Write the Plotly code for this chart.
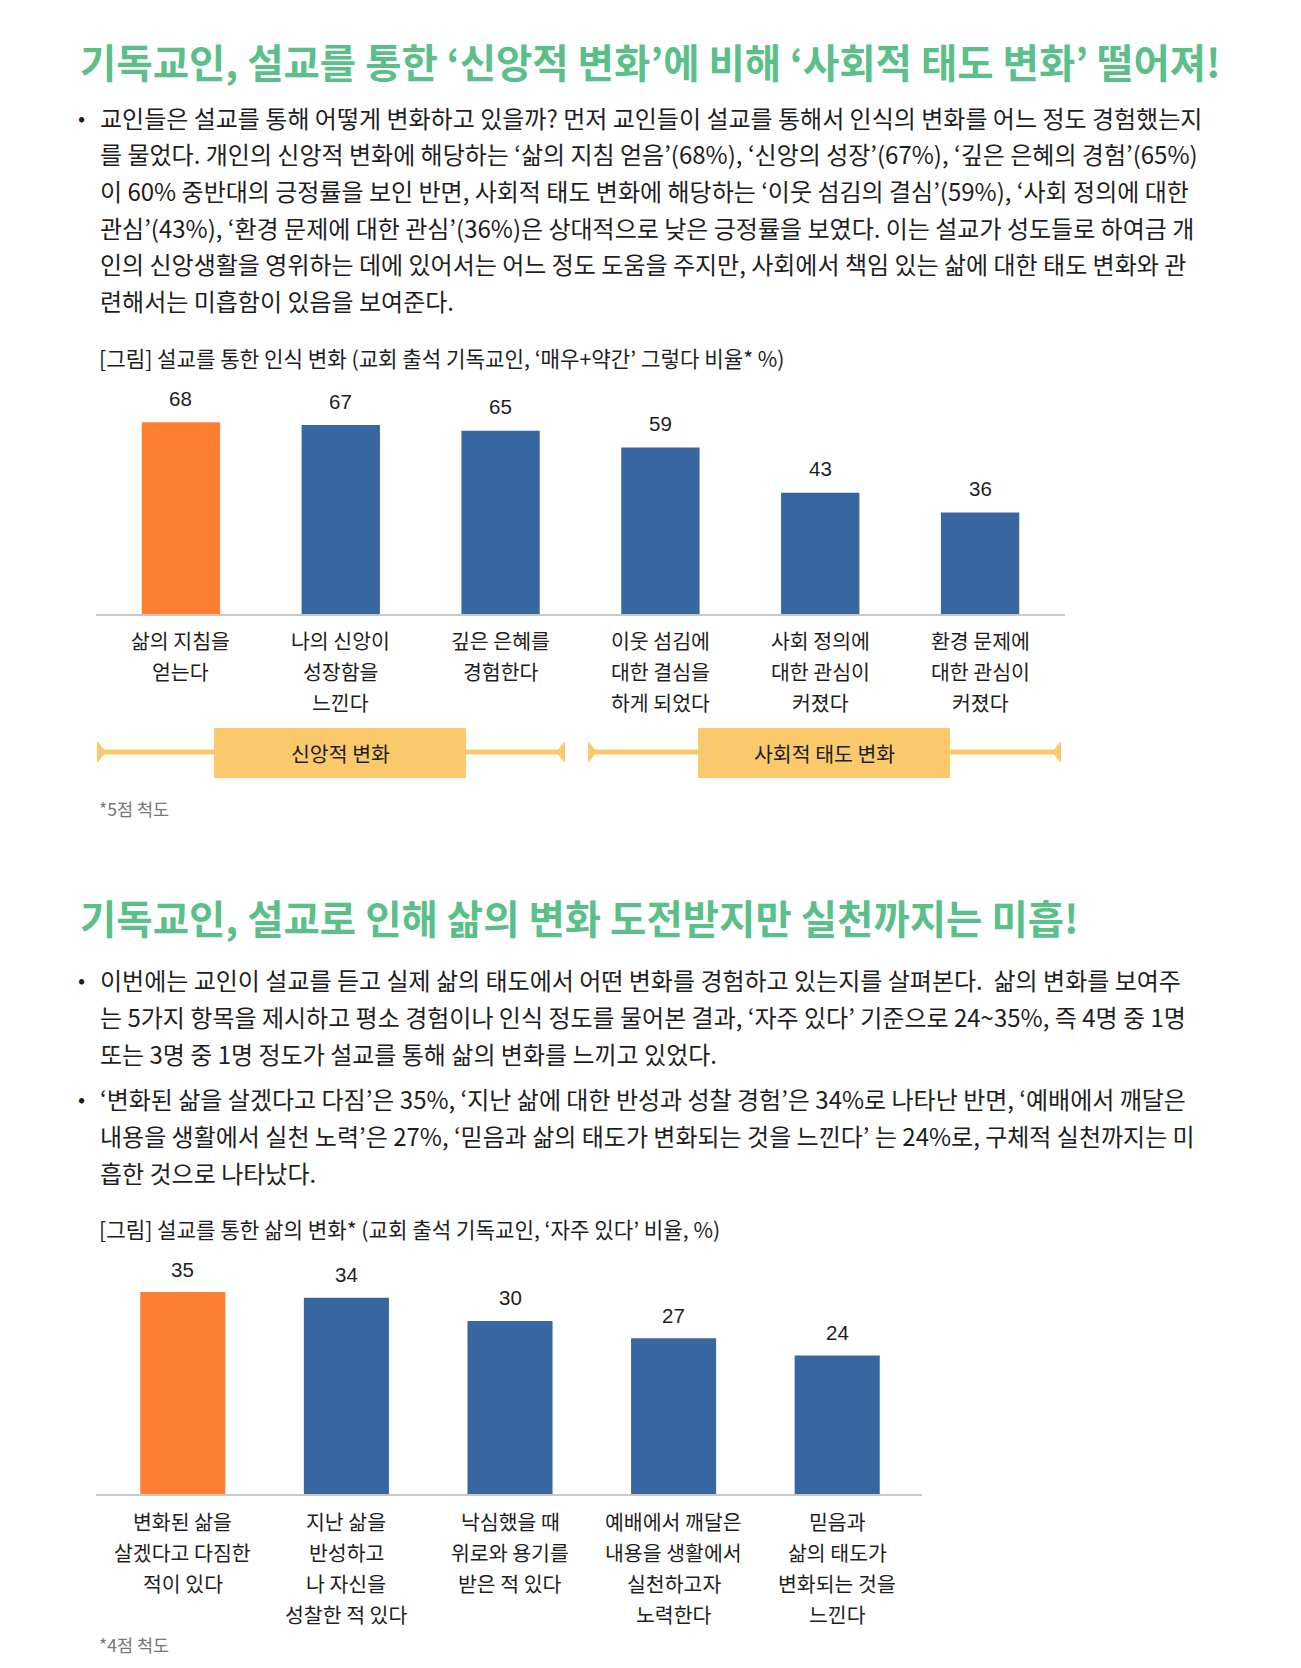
import plotly.graph_objects as go

W, H = 1301, 1668

# ---------------- data ----------------
title1 = "기독교인, 설교를 통한 ‘신앙적 변화’에 비해 ‘사회적 태도 변화’ 떨어져!"
para1 = [
    "교인들은 설교를 통해 어떻게 변화하고 있을까? 먼저 교인들이 설교를 통해서 인식의 변화를 어느 정도 경험했는지",
    "를 물었다. 개인의 신앙적 변화에 해당하는 ‘삶의 지침 얻음’(68%), ‘신앙의 성장’(67%), ‘깊은 은혜의 경험’(65%)",
    "이 60% 중반대의 긍정률을 보인 반면, 사회적 태도 변화에 해당하는 ‘이웃 섬김의 결심’(59%), ‘사회 정의에 대한",
    "관심’(43%), ‘환경 문제에 대한 관심’(36%)은 상대적으로 낮은 긍정률을 보였다. 이는 설교가 성도들로 하여금 개",
    "인의 신앙생활을 영위하는 데에 있어서는 어느 정도 도움을 주지만, 사회에서 책임 있는 삶에 대한 태도 변화와 관",
    "련해서는 미흡함이 있음을 보여준다.",
]
caption1 = "[그림] 설교를 통한 인식 변화 (교회 출석 기독교인, ‘매우+약간’ 그렇다 비율* %)"
cats1 = [
    ["삶의 지침을", "얻는다"],
    ["나의 신앙이", "성장함을", "느낀다"],
    ["깊은 은혜를", "경험한다"],
    ["이웃 섬김에", "대한 결심을", "하게 되었다"],
    ["사회 정의에", "대한 관심이", "커졌다"],
    ["환경 문제에", "대한 관심이", "커졌다"],
]
vals1 = [68, 67, 65, 59, 43, 36]
groups1 = ["신앙적 변화", "사회적 태도 변화"]
note1 = "*5점 척도"

title2 = "기독교인, 설교로 인해 삶의 변화 도전받지만 실천까지는 미흡!"
para2a = [
    "이번에는 교인이 설교를 듣고 실제 삶의 태도에서 어떤 변화를 경험하고 있는지를 살펴본다.  삶의 변화를 보여주",
    "는 5가지 항목을 제시하고 평소 경험이나 인식 정도를 물어본 결과, ‘자주 있다’ 기준으로 24~35%, 즉 4명 중 1명",
    "또는 3명 중 1명 정도가 설교를 통해 삶의 변화를 느끼고 있었다.",
]
para2b = [
    "‘변화된 삶을 살겠다고 다짐’은 35%, ‘지난 삶에 대한 반성과 성찰 경험’은 34%로 나타난 반면, ‘예배에서 깨달은",
    "내용을 생활에서 실천 노력’은 27%, ‘믿음과 삶의 태도가 변화되는 것을 느낀다’ 는 24%로, 구체적 실천까지는 미",
    "흡한 것으로 나타났다.",
]
caption2 = "[그림] 설교를 통한 삶의 변화* (교회 출석 기독교인, ‘자주 있다’ 비율, %)"
cats2 = [
    ["변화된 삶을", "살겠다고 다짐한", "적이 있다"],
    ["지난 삶을", "반성하고", "나 자신을", "성찰한 적 있다"],
    ["낙심했을 때", "위로와 용기를", "받은 적 있다"],
    ["예배에서 깨달은", "내용을 생활에서", "실천하고자", "노력한다"],
    ["믿음과", "삶의 태도가", "변화되는 것을", "느낀다"],
]
vals2 = [35, 34, 30, 27, 24]
note2 = "*4점 척도"

# ---------------- style ----------------
KR = "Noto Sans CJK KR"
NUM = "Liberation Sans, Arial, sans-serif"
GREEN = "#5ABF88"
ORANGE = "#FE7F32"
BLUE = "#3766A0"
GOLD = "#FAC96B"
TXT = "#1E1E1E"

def px(x):
    return x / W

def py(y):
    return 1 - y / H

keys1 = [" ".join(c) for c in cats1]
keys2 = [" ".join(c) for c in cats2]

fig = go.Figure()
fig.add_trace(go.Bar(
    x=keys1, y=vals1, xaxis="x", yaxis="y", width=0.49,
    marker=dict(color=[ORANGE] + [BLUE] * (len(vals1) - 1), line=dict(width=0)),
    hoverinfo="skip", showlegend=False,
))
fig.add_trace(go.Bar(
    x=keys2, y=vals2, xaxis="x2", yaxis="y2", width=0.52,
    marker=dict(color=[ORANGE] + [BLUE] * (len(vals2) - 1), line=dict(width=0)),
    hoverinfo="skip", showlegend=False,
))

ann = []

def text(x, y, s, size, color=TXT, family=KR, anchor="left", weight=None):
    f = dict(family=family, size=size, color=color)
    if weight:
        f["weight"] = weight
    ann.append(dict(x=px(x), y=py(y), xref="paper", yref="paper", text=s,
                    showarrow=False, xanchor=anchor, yanchor="middle", font=f))

BODY = 24
CAP = 21.2
CAT = 20.5

# section 1 text
text(78, 60, title1, 39.5, GREEN, weight=700)
text(76, 117, "•", 21)
for i, line in enumerate(para1):
    text(98, 117 + i * 36.7, line, BODY)
text(97, 357, caption1, CAP)

# values chart 1
for k, v in zip(keys1, vals1):
    ann.append(dict(x=k, y=v, xref="x", yref="y", text=str(v), showarrow=False,
                    yanchor="middle", yshift=24, font=dict(family=NUM, size=20.5, color=TXT)))
for k, lines in zip(keys1, cats1):
    for j, l in enumerate(lines):
        ann.append(dict(x=k, y=py(640 + j * 31), xref="x", yref="paper", text=l,
                        showarrow=False, yanchor="middle", font=dict(family=KR, size=CAT, color=TXT)))

# bracket groups
shapes = []
brackets = [(97, 565, 214, 466), (588, 1061, 698, 950)]
ybr = 752
for (x0, x1, b0, b1), lab in zip(brackets, groups1):
    shapes.append(dict(type="line", xref="paper", yref="paper", x0=px(x0), x1=px(x1),
                       y0=py(ybr), y1=py(ybr), line=dict(color=GOLD, width=5)))
    for xe, d in ((x0, 1), (x1, -1)):
        path = "M {} {} L {} {} L {} {} Z".format(px(xe), py(ybr - 11), px(xe), py(ybr + 11),
                                                  px(xe + d * 9), py(ybr))
        shapes.append(dict(type="path", xref="paper", yref="paper", path=path,
                           fillcolor=GOLD, line=dict(width=0)))
    shapes.append(dict(type="rect", xref="paper", yref="paper", x0=px(b0), x1=px(b1),
                       y0=py(778), y1=py(728), fillcolor=GOLD, line=dict(width=0)))
    text((b0 + b1) / 2, 753, lab, CAT, anchor="center")

# extend baseline slightly as in reference
shapes.append(dict(type="line", xref="paper", yref="paper", x0=px(96), x1=px(1065),
                   y0=py(615), y1=py(615), line=dict(color="#C8C8C8", width=2)))
shapes.append(dict(type="line", xref="paper", yref="paper", x0=px(96), x1=px(922),
                   y0=py(1495), y1=py(1495), line=dict(color="#C8C8C8", width=2)))

text(97, 808, note1, 17.5, "#777777")

# section 2 text
text(78, 916, title2, 39.5, GREEN, weight=700)
text(76, 979, "•", 21)
for i, line in enumerate(para2a):
    text(98, 979 + i * 37, line, BODY)
text(76, 1098, "•", 21)
for i, line in enumerate(para2b):
    text(98, 1098 + i * 37, line, BODY)
text(97, 1228, caption2, CAP)

for k, v in zip(keys2, vals2):
    ann.append(dict(x=k, y=v, xref="x2", yref="y2", text=str(v), showarrow=False,
                    yanchor="middle", yshift=23, font=dict(family=NUM, size=20.5, color=TXT)))
for k, lines in zip(keys2, cats2):
    for j, l in enumerate(lines):
        ann.append(dict(x=k, y=py(1521 + j * 31), xref="x2", yref="paper", text=l,
                        showarrow=False, yanchor="middle", font=dict(family=KR, size=CAT, color=TXT)))

text(97, 1644, note2, 17.5, "#777777")

axis_x = dict(type="category", showline=True, linecolor="#C8C8C8", linewidth=2,
              showticklabels=False, showgrid=False, zeroline=False, ticks="", fixedrange=True)
axis_y = dict(visible=False, showgrid=False, zeroline=False, fixedrange=True)

fig.update_layout(
    width=W, height=H, margin=dict(l=0, r=0, t=0, b=0),
    paper_bgcolor="white", plot_bgcolor="white",
    xaxis=dict(axis_x, domain=[px(101), px(1060)], anchor="y"),
    yaxis=dict(axis_y, domain=[py(614), py(614 - 2.82 * 80)], range=[0, 80], anchor="x"),
    xaxis2=dict(axis_x, domain=[px(101), px(919)], anchor="y2"),
    yaxis2=dict(axis_y, domain=[py(1494), py(1494 - 5.77 * 40)], range=[0, 40], anchor="x2"),
    annotations=ann, shapes=shapes,
)

fig.write_html("out.html")
